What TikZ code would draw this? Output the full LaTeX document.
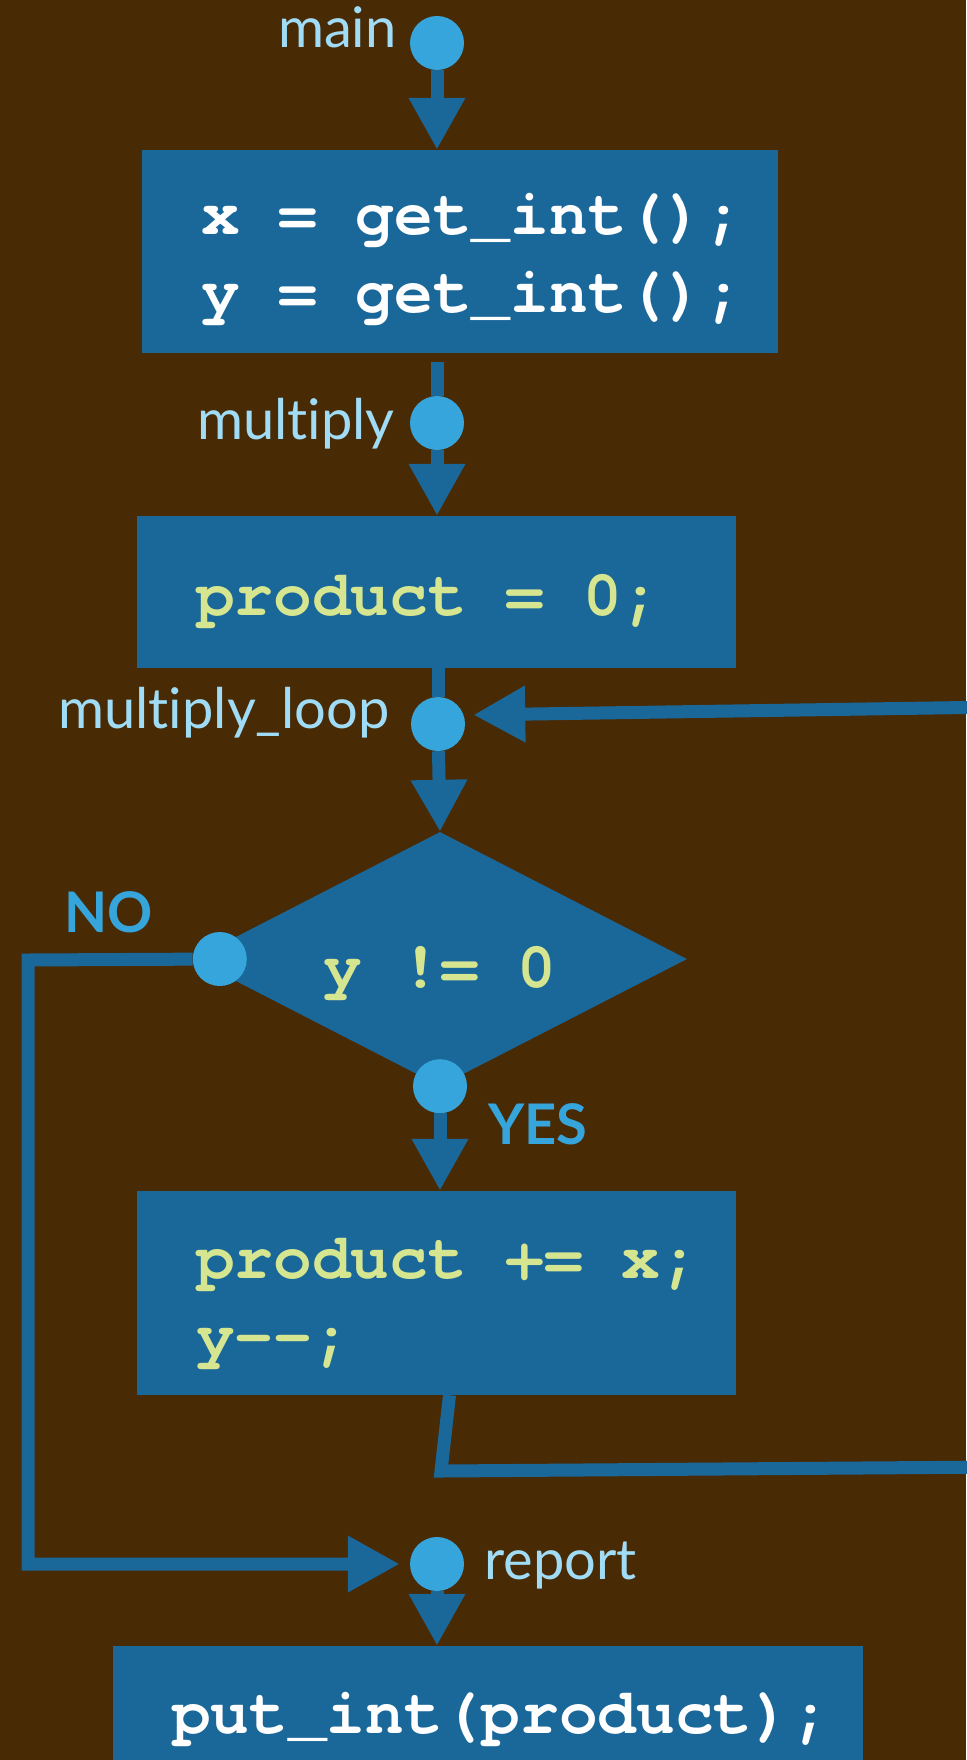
\documentclass[tikz,border=0pt]{standalone}
\usepackage{fontspec}
\newfontfamily\lblfont{Lato}[Ligatures=NoCommon]
\newfontfamily\codefont{texgyrecursor-bold.otf}
\usetikzlibrary{shapes.geometric, arrows.meta, positioning, calc}
\usepackage{xcolor}
\definecolor{FlowBrown}{HTML}{482A05}
\definecolor{FlowBlue}{HTML}{1A6799}
\definecolor{FlowDot}{HTML}{35A5DB}
\definecolor{FlowLabel}{HTML}{A0DCF5}
\definecolor{FlowYellow}{HTML}{D6E690}
\newcommand{\codesize}{\codefont\fontsize{64.5}{78}\selectfont}
\newcommand{\lblsize}{\lblfont\fontsize{56}{62}\selectfont}
% one fixed-width blank in the code font
\newcommand{\codesp}{\kern0.6em}
\hfuzz=60pt
\tikzset{
    % Box styles - all sharp corners
    codebox/.style={
        rectangle,
        fill=FlowBlue,
        inner xsep=59pt,
        inner ysep=0pt,
        align=left,
        font=\codesize
    },
    decision/.style={
        diamond,
        aspect=2,
        fill=FlowBlue,
        inner sep=0pt,
        minimum width=494pt,
        minimum height=254pt,
        text=FlowYellow,
        font=\codesize
    },
    dot/.style={
        circle,
        fill=FlowDot,
        inner sep=0pt,
        minimum size=54pt
    },
    lbl/.style={
        text=FlowLabel,
        inner sep=0pt,
        font=\lblsize
    },
    branch/.style={
        text=FlowDot,
        inner sep=0pt,
        font=\lblsize\bfseries
    },
    % Arrow styles
    flow/.style={
        -{Triangle[length=52pt, width=53pt]},
        line width=13pt,
        draw=FlowBlue
    },
    link/.style={
        line width=13pt,
        draw=FlowBlue
    }
}

\begin{document}
\begin{tikzpicture}[x=1pt, y=-1pt]
    \fill[FlowBrown] (0,0) rectangle (966,1760);
    \useasboundingbox (0,0) rectangle (966,1760);

    \node[codebox, text=white, minimum width=636pt, minimum height=203pt, text width=518pt, text height=40pt, text depth=73pt] (initbox) at (460,251.5) {x\codesp=\codesp get\_int();\\y\codesp=\codesp get\_int();};
    \node[codebox, text=FlowYellow, minimum width=599pt, minimum height=152pt, text width=481pt, text height=50pt, text depth=4pt] (zerobox) at (436.5,592) {product\codesp=\codesp 0;};
    \node[decision, text height=60pt, text depth=4pt] (test) at (440,959) {y\codesp!=\codesp 0};
    \node[codebox, text=FlowYellow, minimum width=599pt, minimum height=204pt, text width=481pt, text height=40pt, text depth=70pt] (opbox) at (436.5,1293) {product\codesp+=\codesp x;\\y\mbox{-}\mbox{-};};
    \node[codebox, text=white, minimum width=750pt, minimum height=142pt, text width=632pt, text height=40pt, text depth=8pt] (outbox) at (488,1717) {put\_int(product);};

    \node[dot] (mainpt) at (437,43) {};
    \node[dot] (multpt) at (437,423) {};
    \node[dot] (looppt) at (438,724) {};
    \node[dot] (nopt) at ([xshift=27pt]test.west) {};
    \node[dot] (yespt) at (test.south) {};
    \node[dot] (reportpt) at (437,1564) {};

    \node[lbl, anchor=base east] (mainlbl) at ([xshift=-13pt, yshift=-5pt]mainpt.west) {main};
    \node[lbl, anchor=base east] (multlbl) at ([xshift=-15pt, yshift=-16pt]multpt.west) {multiply};
    \node[lbl, anchor=base east] (looplbl) at ([xshift=-21pt, yshift=-4pt]looppt.west) {multiply\_loop};
    \node[lbl, anchor=base west] (reportlbl) at ([xshift=20pt, yshift=-15pt]reportpt.east) {report};
    \node[branch, anchor=base east] (nolbl) at ([xshift=-40pt, yshift=27pt]nopt.west) {NO};
    \node[branch, anchor=base west] (yeslbl) at ([xshift=21pt, yshift=-58pt]yespt.east) {YES};

    \coordinate (nobend) at (28,960);
    \coordinate (backbend) at (441,1471);
    \coordinate (backfar) at (1000,1467);
    \coordinate (backtop) at (1000,707);

    \draw[flow] (mainpt) -- (mainpt |- initbox.north);
    \draw[link] ([yshift=-9pt]initbox.south -| multpt) -- (multpt);
    \draw[flow] (multpt) -- (multpt |- zerobox.north);
    \draw[link] (zerobox.south -| looppt) -- (looppt);
    \draw[flow] (looppt) -- (test.north);
    \draw[flow] (yespt) -- (yespt |- opbox.north);
    \draw[flow, shorten >=10pt] (nopt) -- (nobend) |- (reportpt);
    \draw[flow, shorten >=8pt] ([xshift=13pt]opbox.south) -- (backbend) -- (backfar) -- (backtop) -- ([yshift=9pt]looppt.east);
    \draw[flow] (reportpt) -- (reportpt |- outbox.north);
\end{tikzpicture}
\end{document}
